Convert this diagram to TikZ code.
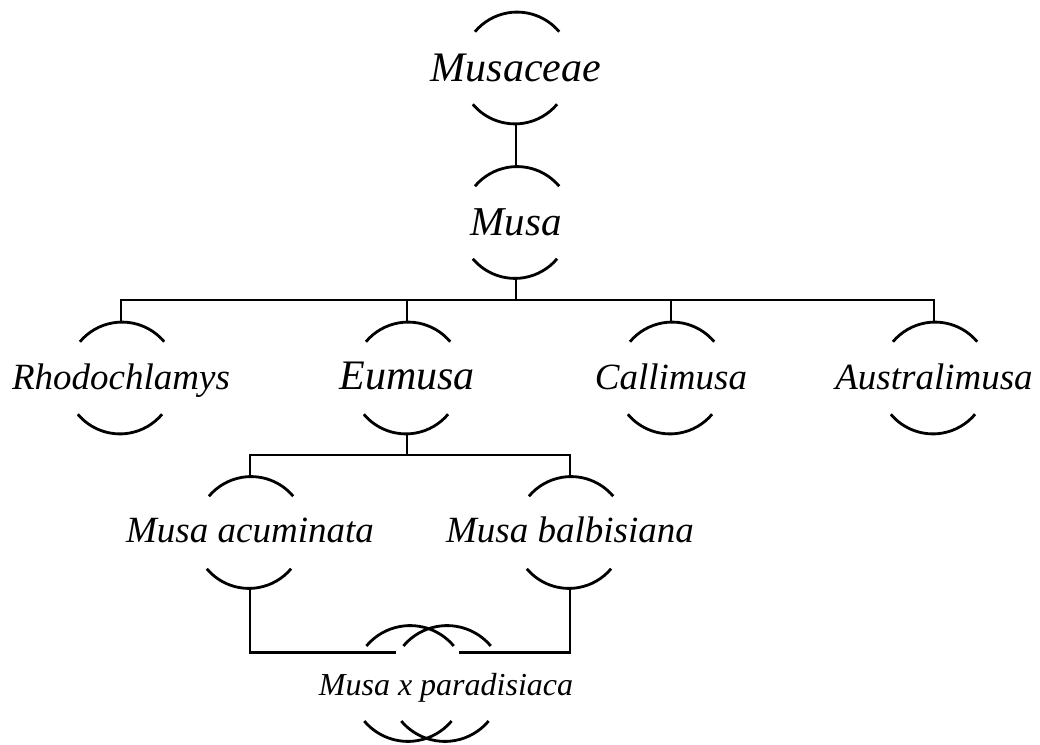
\documentclass[tikz,border=0pt]{standalone}
\usepackage{fontspec}
\setmainfont{Liberation Serif}
\usepackage{tikz}
\newcommand{\nm}[1]{\makebox[0pt]{#1}}
\tikzset{
  taxon/.style={circle, minimum size=110pt, inner sep=0pt, text height=24pt, text depth=0pt,
    font=\fontsize{37}{40}\selectfont\itshape},
  bigtaxon/.style={taxon, text height=27pt, font=\fontsize{42}{46}\selectfont\itshape},
  hybrid/.style={taxon, minimum size=114pt, text height=23pt, font=\fontsize{32}{36}\selectfont\itshape},
}

\begin{document}
\begin{tikzpicture}[x=1pt, y=1pt, line width=2.8pt]
				\useasboundingbox (0,0) rectangle (1040,744);

				% genus and family
				\node[bigtaxon] (musaceae) at (516,676) {\nm{Musaceae}};
				\node[bigtaxon, font=\fontsize{41}{45}\selectfont\itshape] (musa) at (516,521.5) {\nm{Musa}};

				% sections
				\node[taxon] (rhodo) at (121,366) {\nm{Rhodochlamys}};
				\node[bigtaxon, text height=24pt] (eumusa) at (407,366) {\nm{Eumusa}};
				\node[taxon] (calli) at (671,366) {\nm{Callimusa}};
				\node[taxon] (austra) at (934,366) {\nm{Australimusa}};

				% species
				\node[taxon, text height=21pt] (acum) at (250,211.5) {\nm{Musa acuminata}};
				\node[taxon, text height=21pt] (balbi) at (570,211.5) {\nm{Musa balbisiana}};
				\node[hybrid] (hybb) at (409,60.5) {};
				\node[hybrid] (hyb) at (446,60.5) {\nm{Musa x paradisiaca}};

				% arcs above and below
				\foreach \n/\r in {musaceae/55, musa/55, rhodo/55, eumusa/55, calli/55, austra/55,
						acum/55, balbi/55, hybb/57, hyb/57} {
					\draw (\n.40) arc[start angle=40, end angle=140, radius=\r pt];
					\draw (\n.220) arc[start angle=220, end angle=320, radius=\r pt];
				}

				\coordinate (bus1) at (516,444);
				\coordinate (bus2) at (407,289);

				\draw (musaceae) -- (musa);
				\draw (musa) -- (bus1);
				\foreach \n in {rhodo, eumusa, calli, austra}
					\draw (bus1) -| (\n);
				\draw (eumusa) -- (bus2);
				\draw (bus2) -| (acum);
				\draw (bus2) -| (balbi);
				\draw (acum) |- (hyb.148);
				\draw (balbi) |- (hybb.32);
			\end{tikzpicture}
\end{document}
